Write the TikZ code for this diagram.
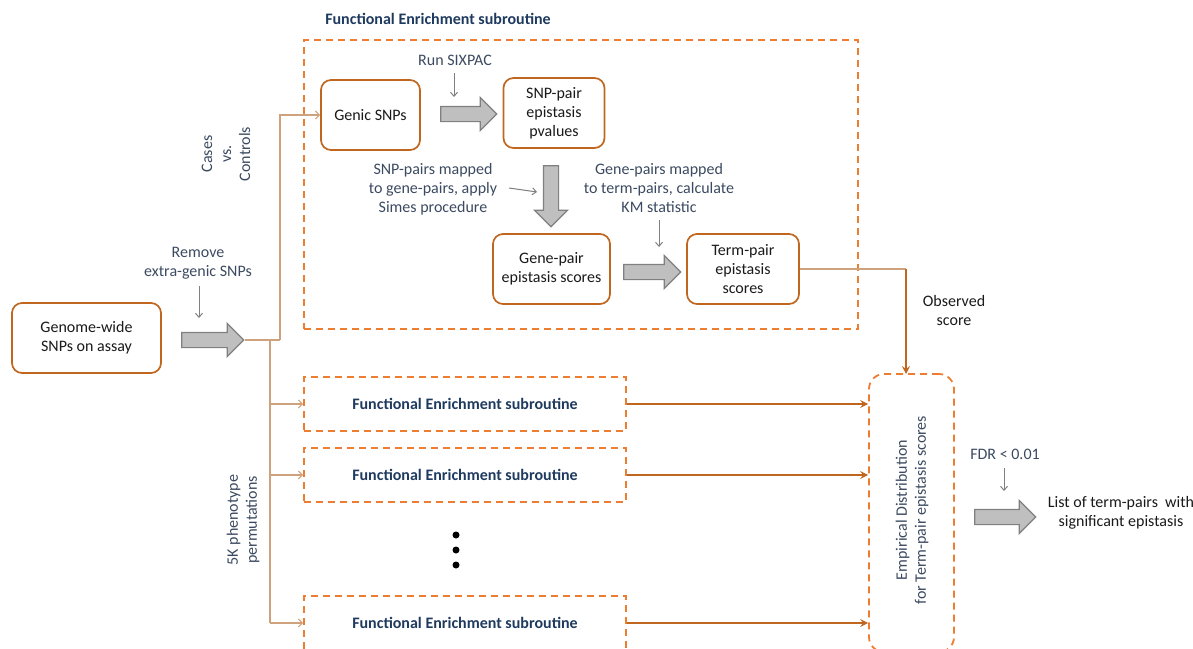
\documentclass[tikz,border=0pt]{standalone}
\usepackage{fontspec}
\setmainfont{Carlito}
\usetikzlibrary{shapes.arrows,arrows.meta}
\definecolor{boxbr}{HTML}{C0661F}
\definecolor{dashor}{HTML}{ED7D31}
\definecolor{linetan}{HTML}{CFA27E}
\definecolor{linebr}{HTML}{C0661F}
\definecolor{navy}{HTML}{3B4A60}
\definecolor{darknavy}{HTML}{1F3A5F}
\definecolor{arrfill}{HTML}{BFBFBF}
\definecolor{arrdraw}{HTML}{808080}
\definecolor{txt}{HTML}{1A1A1A}
\begin{document}
\begin{tikzpicture}[x=1pt,y=-1pt,
  every node/.style={font=\fontsize{16}{19}\selectfont, align=center, inner sep=0pt, text=txt},
  procbox/.style={draw=boxbr, line width=1.7pt, rounded corners=10pt, fill=white},
  dashbox/.style={draw=dashor, line width=1.8pt, dash pattern=on 7pt off 5pt},
  lbl/.style={text=navy},
  ttl/.style={text=darknavy, font=\bfseries\fontsize{16}{19}\selectfont},
  bigarrow/.style={single arrow, draw=arrdraw, fill=arrfill, line width=1.2pt,
    single arrow head extend=9pt, single arrow head indent=0pt, minimum height=#1,
    inner xsep=0pt, inner ysep=7pt},
  tanline/.style={draw=linetan, line width=1.1pt},
  brline/.style={draw=linebr, line width=1.1pt, -{Stealth[length=8pt,width=8pt,inset=3pt]}},
  smallarr/.style={draw=arrdraw, line width=1pt, -{Straight Barb[length=4pt,width=7pt]}},
  tanarr/.style={tanline, -{Straight Barb[length=4pt,width=8pt]}},
  dotn/.style={circle, fill=black, minimum size=7pt}
]
\useasboundingbox (0,0) rectangle (1193,648);

% dashed boxes
\node[dashbox, minimum width=554pt, minimum height=289pt] (main) at (581,184.5) {};
\node[ttl] (title) at (438,19) {Functional Enrichment subroutine};
\node[dashbox, minimum width=322pt, minimum height=54pt] (fe1) at (465,404) {};
\node[ttl] at (fe1.center) {Functional Enrichment subroutine};
\node[dashbox, minimum width=322pt, minimum height=54pt] (fe2) at (465,475) {};
\node[ttl] at (fe2.center) {Functional Enrichment subroutine};
\node[dashbox, minimum width=322pt, minimum height=54pt] (fe3) at (465,623) {};
\node[ttl] at (fe3.center) {Functional Enrichment subroutine};
\node[dashbox, rounded corners=15pt, minimum width=85pt, minimum height=278pt] (emp) at (911.5,513) {};
\node[lbl, rotate=90] (emptxt) at (912,510) {Empirical Distribution\\for Term-pair epistasis scores};

% process boxes
\node[procbox, minimum width=149pt, minimum height=70pt] (genome) at (86.5,338) {Genome-wide\\SNPs on assay};
\node[procbox, minimum width=99pt, minimum height=70pt] (genic) at (370.5,115) {Genic SNPs};
\node[procbox, minimum width=101pt, minimum height=70pt] (snp) at (554,113) {SNP-pair\\epistasis\\pvalues};
\node[procbox, minimum width=117pt, minimum height=70pt] (gene) at (551.5,269) {Gene-pair\\epistasis scores};
\node[procbox, minimum width=112pt, minimum height=70pt] (term) at (743,269) {Term-pair\\epistasis\\scores};

% big arrows
\node[bigarrow=62pt] (a1) at (209,340) {};
\node[bigarrow=56pt] (a2) at (465,114) {};
\node[bigarrow=61pt, rotate=-90] (a3) at (551,192.5) {};
\node[bigarrow=57pt] (a4) at (648.5,272) {};
\node[bigarrow=61pt] (a5) at (1001.5,517) {};

% labels
\node[lbl] (remove) at (198,263) {Remove\\extra-genic SNPs};
\node[lbl, rotate=90] (cases) at (226,154) {Cases\\vs.\\Controls};
\node[lbl, rotate=90] (perm) at (243,520) {5K phenotype\\permutations};
\node[lbl] (run) at (455,60) {Run SIXPAC};
\node[lbl] (map1) at (433,189) {SNP-pairs mapped\\to gene-pairs, apply\\Simes procedure};
\node[lbl] (map2) at (659,188) {Gene-pairs mapped\\to term-pairs, calculate\\KM statistic};
\node (obs) at (954,310) {Observed\\score};
\node[lbl] (fdr) at (1005,454) {FDR < 0.01};
\node (list) at (1121,513) {List of term-pairs~ with\\significant epistasis};

% dots
\node[dotn] (d1) at (456,535) {};
\node[dotn] (d2) at (456,550) {};
\node[dotn] (d3) at (456,565) {};

% small arrows
\coordinate (s1a) at (199,286); \coordinate (s1b) at (199,318);
\draw[smallarr] (s1a) -- (s1b);
\coordinate (s2a) at (454,73); \coordinate (s2b) at (454,97);
\draw[smallarr] (s2a) -- (s2b);
\coordinate (s3a) at (509,188); \coordinate (s3b) at (537,192);
\draw[smallarr] (s3a) -- (s3b);
\coordinate (s4a) at (659,220); \coordinate (s4b) at (659,247);
\draw[smallarr] (s4a) -- (s4b);
\coordinate (s5a) at (1004,468); \coordinate (s5b) at (1004,491);
\draw[smallarr] (s5a) -- (s5b);

% connectors
\coordinate (j1) at (280,340);
\coordinate (j2) at (270,340);
\coordinate (j3) at (270,623);
\draw[tanline] (a1.tip) -- (j1);
\draw[tanarr] (j1) |- (genic.west);
\draw[tanline] (j2) -- (j3);
\draw[tanarr] (j2 |- fe1.west) -- (fe1.west);
\draw[tanarr] (j2 |- fe2.west) -- (fe2.west);
\draw[tanarr] (j3) -- (fe3.west);

\coordinate (o1) at (906,269);
\coordinate (o2) at (906,374);
\draw[tanline] (term.east) -- (o1);
\draw[brline] (o1) -- (o2);
\draw[brline] (fe1.east) -- (emp.west |- fe1.east);
\draw[brline] (fe2.east) -- (emp.west |- fe2.east);
\draw[brline] (fe3.east) -- (emp.west |- fe3.east);
\end{tikzpicture}
\end{document}
